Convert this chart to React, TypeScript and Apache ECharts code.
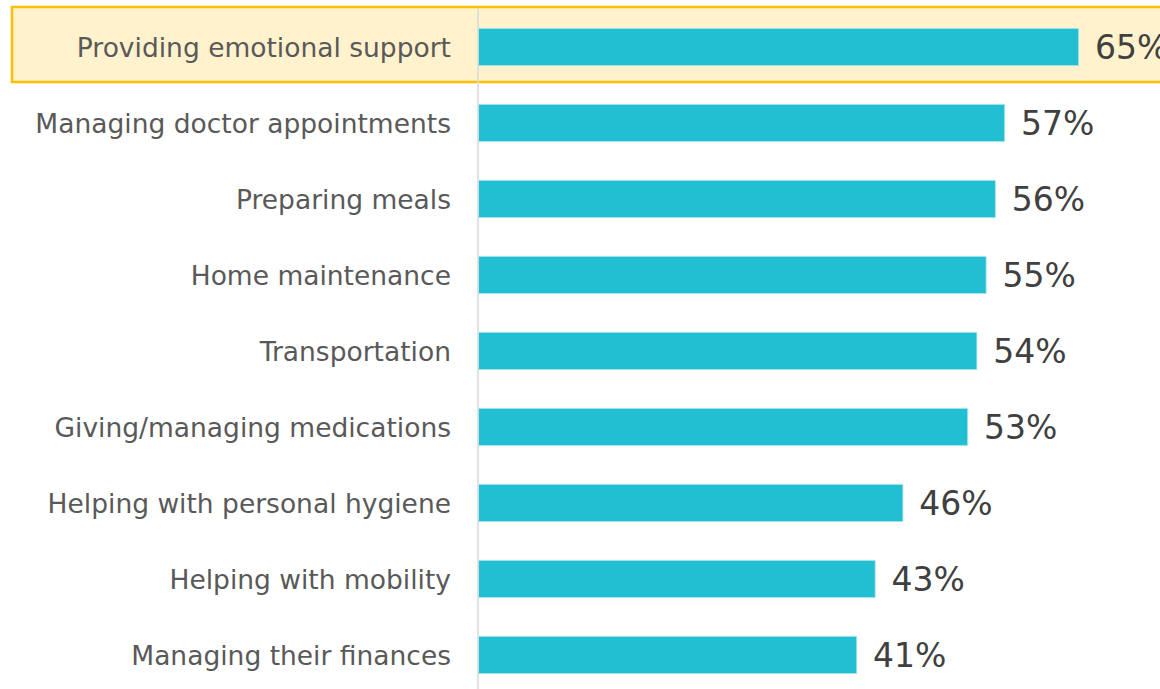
import React, { useEffect, useRef } from "react";
import * as echarts from "echarts";

const categories = [
  "Providing emotional support",
  "Managing doctor appointments",
  "Preparing meals",
  "Home maintenance",
  "Transportation",
  "Giving/managing medications",
  "Helping with personal hygiene",
  "Helping with mobility",
  "Managing their finances",
];
const values = [65, 57, 56, 55, 54, 53, 46, 43, 41];

const FONT = "'DejaVu Sans', Verdana, sans-serif";

export default function App() {
  const ref = useRef<HTMLDivElement>(null);
  useEffect(() => {
    document.body.style.margin = "0";
    document.body.style.overflow = "hidden";
    const chart = echarts.init(ref.current!, undefined, { renderer: "svg" });
    chart.setOption({
      animation: false,
      grid: { left: 478, top: 9, height: 684, width: 924.6, containLabel: false },
      xAxis: { type: "value", min: 0, max: 100, show: false },
      yAxis: {
        type: "category",
        data: categories,
        inverse: true,
        axisLine: { show: true, lineStyle: { color: "#d9d9d9", width: 1.5 } },
        axisTick: { show: false },
        splitLine: { show: false },
        axisLabel: {
          margin: 27,
          color: "#595959",
          fontSize: 26.5,
          fontFamily: FONT,
        },
        z: 5,
      },
      graphic: [
        {
          type: "rect",
          z: -10,
          shape: { x: 12, y: 7, width: 1200, height: 75 },
          style: { fill: "#FFF2CC", stroke: "#FFC000", lineWidth: 2.5 },
        },
      ],
      series: [
        {
          type: "bar",
          data: values,
          barWidth: 38,
          itemStyle: { color: "#22BFD3", borderColor: "#a8e4ec", borderWidth: 0.8 },
          label: {
            show: true,
            position: "right",
            distance: 16,
            formatter: "{c}%",
            color: "#404040",
            fontSize: 33,
            fontFamily: FONT,
          },
          z: 3,
        },
      ],
    });
    return () => chart.dispose();
  }, []);
  return (
    <div style={{ width: 1160, height: 689, overflow: "hidden", position: "relative" }}>
      <div ref={ref} style={{ width: 1420, height: 700 }} />
    </div>
  );
}
